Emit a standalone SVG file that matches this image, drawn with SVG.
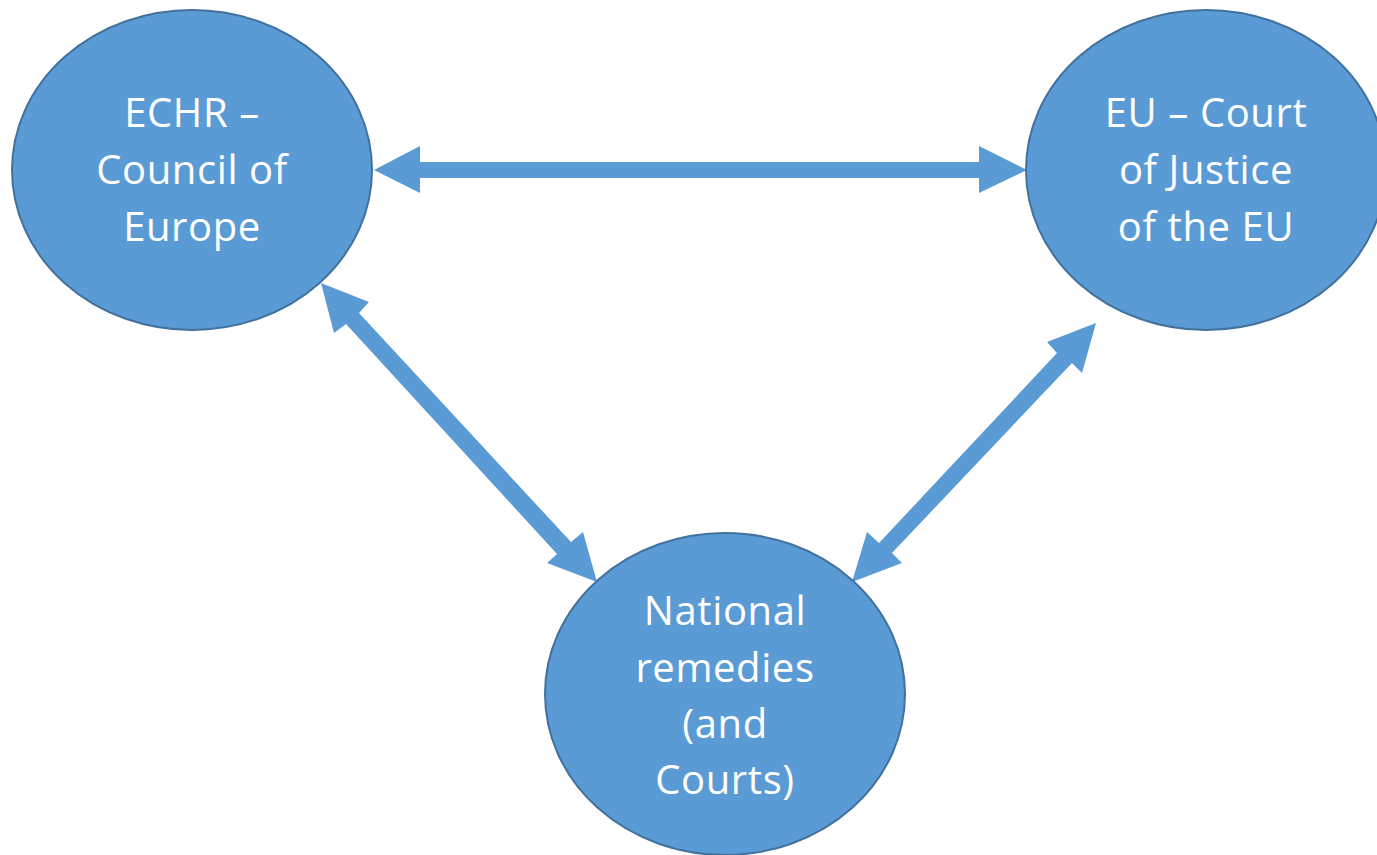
<svg xmlns="http://www.w3.org/2000/svg" width="1377" height="855" viewBox="0 0 1377 855">
<style>
.node{fill:#5B9BD5;stroke:#41719C;stroke-width:2}
.lbl{fill:#FFFFFF;font-family:"Open Sans","Liberation Sans",sans-serif;font-size:40px;letter-spacing:0.6px;text-anchor:middle}
.arr{fill:#5B9BD5;stroke:none}
</style>
<rect width="1377" height="855" fill="#FFFFFF"/>
<g id="connectors">
<polygon class="arr" points="374,170 420,146 420,162 979,162 979,146 1027,170 979,193 979,178 420,178 420,193"/>
<polygon class="arr" points="321,283 369,302 359,313 571,542 583,532 597,582 547,563 557,554 346,324 334,333"/>
<polygon class="arr" points="1096,323 1082,373 1072,363 892,553 902,563 852,582 867,532 879,543 1057,353 1047,342"/>
</g>
<g id="echr">
<ellipse class="node" cx="192" cy="170" rx="180" ry="160"/>
<text class="lbl" x="192" y="127">ECHR –</text>
<text class="lbl" x="192" y="184">Council of</text>
<text class="lbl" x="192" y="241">Europe</text>
</g>
<g id="eu">
<ellipse class="node" cx="1206" cy="170" rx="180" ry="160"/>
<text class="lbl" x="1206" y="127">EU – Court</text>
<text class="lbl" x="1206" y="184">of Justice</text>
<text class="lbl" x="1206" y="241">of the EU</text>
</g>
<g id="national">
<ellipse class="node" cx="725" cy="694" rx="180" ry="161"/>
<text class="lbl" x="725" y="625">National</text>
<text class="lbl" x="725" y="682">remedies</text>
<text class="lbl" x="725" y="738">(and</text>
<text class="lbl" x="725" y="794">Courts)</text>
</g>
</svg>
